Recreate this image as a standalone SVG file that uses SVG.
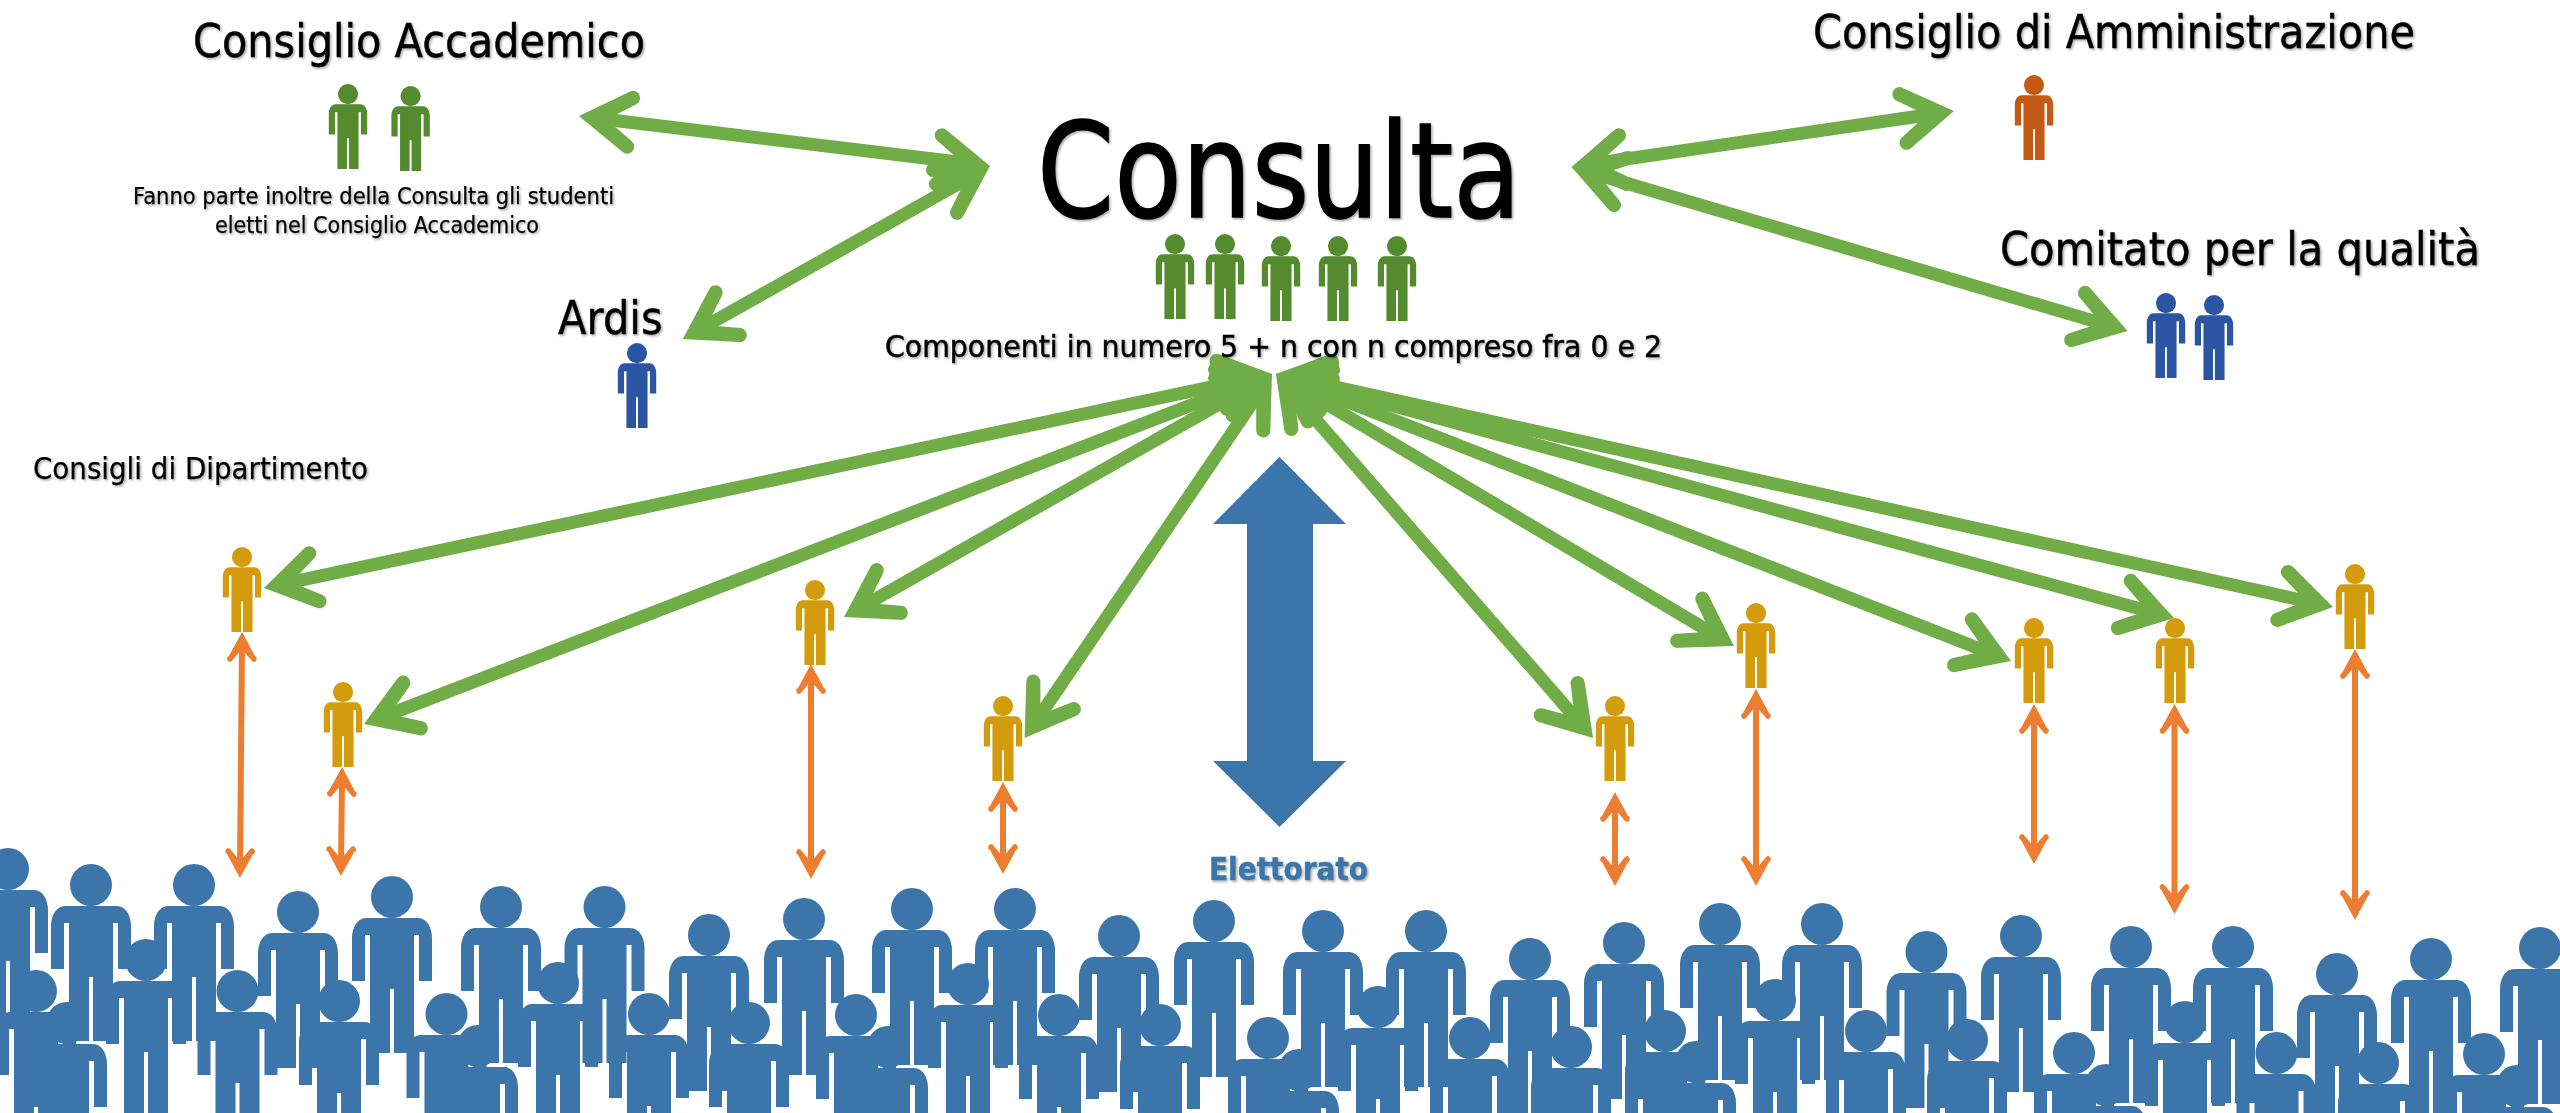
<svg xmlns="http://www.w3.org/2000/svg" width="2560" height="1113" viewBox="0 0 2560 1113">
<style>
text{font-family:"DejaVu Sans","Liberation Sans",sans-serif;fill:#000;stroke:#000;stroke-width:.5;filter:url(#sh)}
.huge{stroke-width:1.6}.small{stroke-width:.25}
.green{fill:#548B2E}.blue{fill:#2B55A2}.rust{fill:#C35B16}.gold{fill:#D49C0D}.crowd{fill:#3B75A9}
.ga{stroke:#70AD47;stroke-width:13;fill:none;marker-start:url(#gh);marker-end:url(#gh)}
.oa{stroke:#ED7D31;stroke-width:6;fill:none;marker-start:url(#oh);marker-end:url(#oh)}
</style>
<defs>
<filter id="sh" x="-5%" y="-15%" width="110%" height="130%"><feDropShadow dx="1.5" dy="1.5" stdDeviation="1.2" flood-color="#000" flood-opacity="0.35"/></filter>
<g id="p"><ellipse cx="0" cy="21" rx="21" ry="21"/><path d="M-26,42H26C35,42 40,52 40,62V105H27V59H22V177H2V113H-2V177H-22V59H-27V105H-40V62C-40,52 -35,42 -26,42Z"/></g>
<marker id="gh" markerUnits="userSpaceOnUse" markerWidth="90" markerHeight="90" viewBox="-65 -45 90 90" refX="-22" refY="0" orient="auto-start-reverse"><path d="M0,0L-47,-30A7,7 0 0 0 -56,-19L-28,0L-56,19A7,7 0 0 0 -47,30Z" fill="#70AD47"/></marker>
<marker id="oh" markerUnits="userSpaceOnUse" markerWidth="50" markerHeight="50" viewBox="-38 -25 50 50" refX="-12" refY="0" orient="auto-start-reverse"><path d="M0,0L-24,-13A3,3 0 0 0 -29.5,-10.5L-17,0L-29.5,10.5A3,3 0 0 0 -24,13Z" fill="#ED7D31"/></marker>
</defs>
<rect width="2560" height="1113" fill="#fff"/>
<g id="elettorato" class="crowd">
<use href="#p" x="8" y="848"/><use href="#p" x="91" y="864"/><use href="#p" x="194" y="864"/><use href="#p" x="298" y="891"/><use href="#p" x="392" y="876"/><use href="#p" x="501" y="886"/><use href="#p" x="604.5" y="886"/><use href="#p" x="709" y="914"/><use href="#p" x="804" y="898"/>
<use href="#p" x="912" y="888"/><use href="#p" x="1015" y="888"/><use href="#p" x="1119" y="915"/><use href="#p" x="1214" y="900"/><use href="#p" x="1323" y="910"/><use href="#p" x="1426" y="910"/><use href="#p" x="1530" y="938"/><use href="#p" x="1624" y="922"/><use href="#p" x="1720" y="903"/>
<use href="#p" x="1822" y="903"/><use href="#p" x="1926.5" y="931"/><use href="#p" x="2021" y="915"/><use href="#p" x="2131" y="926"/><use href="#p" x="2233" y="926"/><use href="#p" x="2337" y="953"/><use href="#p" x="2431" y="938"/><use href="#p" x="2540" y="927"/>
<use href="#p" x="36" y="970"/><use href="#p" x="146" y="939"/><use href="#p" x="237.5" y="970"/><use href="#p" x="339" y="980"/><use href="#p" x="446.5" y="993"/><use href="#p" x="558" y="962"/><use href="#p" x="649" y="993"/><use href="#p" x="749" y="1002"/><use href="#p" x="856" y="994"/>
<use href="#p" x="968" y="963"/><use href="#p" x="1059" y="994"/><use href="#p" x="1160" y="1004"/><use href="#p" x="1268" y="1017"/><use href="#p" x="1378" y="986"/><use href="#p" x="1470" y="1017"/><use href="#p" x="1571" y="1026"/><use href="#p" x="1665" y="1010"/>
<use href="#p" x="1775" y="979"/><use href="#p" x="1866" y="1010"/><use href="#p" x="1967" y="1019"/><use href="#p" x="2074" y="1032"/><use href="#p" x="2185" y="1001"/><use href="#p" x="2276.5" y="1032"/><use href="#p" x="2378" y="1042"/><use href="#p" x="2484" y="1033"/>
<use href="#p" x="67" y="1002"/><use href="#p" x="478" y="1025"/><use href="#p" x="888" y="1026"/><use href="#p" x="1299" y="1049"/><use href="#p" x="1696" y="1041"/><use href="#p" x="2106" y="1064"/><use href="#p" x="2517" y="1065"/>
<text x="1209" y="880" font-size="32" font-weight="700" textLength="159" lengthAdjust="spacingAndGlyphs" style="fill:#3B75A9;stroke:#3B75A9">Elettorato</text>
</g>
<g id="connectors">
<line class="ga" x1="600.8" y1="118.7" x2="968.2" y2="163.3"/>
<line class="ga" x1="701.9" y1="328.2" x2="970.8" y2="176.8"/>
<line class="ga" x1="1593.3" y1="163.8" x2="1932.2" y2="114.2"/>
<line class="ga" x1="1592.6" y1="173.2" x2="2106.5" y2="324.8"/>
<line class="ga" x1="1250.5" y1="378.6" x2="285.5" y2="583.4"/>
<line class="ga" x1="1251.5" y1="381.9" x2="384.5" y2="716.1"/>
<line class="ga" x1="1252.9" y1="384.9" x2="863.1" y2="606.1"/>
<line class="ga" x1="1259.6" y1="392.2" x2="1037" y2="719.8"/>
<line class="ga" x1="1290.4" y1="390.6" x2="1578.6" y2="721.4"/>
<line class="ga" x1="1294.9" y1="385.2" x2="1715.1" y2="634.8"/>
<line class="ga" x1="1296.5" y1="382" x2="1990.5" y2="653"/>
<line class="ga" x1="1297.2" y1="379.8" x2="2152.8" y2="612.2"/>
<line class="ga" x1="1297.5" y1="378.7" x2="2311.5" y2="602.3"/>
<line class="oa" x1="242" y1="644" x2="240" y2="866"/>
<line class="oa" x1="342" y1="779" x2="341" y2="864"/>
<line class="oa" x1="811" y1="676" x2="811" y2="867"/>
<line class="oa" x1="1003" y1="794" x2="1003" y2="862"/>
<line class="oa" x1="1615" y1="804" x2="1615" y2="874"/>
<line class="oa" x1="1756" y1="701" x2="1756" y2="874"/>
<line class="oa" x1="2034" y1="716" x2="2034" y2="852"/>
<line class="oa" x1="2174.5" y1="716" x2="2174.5" y2="902"/>
<line class="oa" x1="2355" y1="661" x2="2355" y2="908"/>
<polygon points="1279.5,457 1346,524 1313,524 1313,761 1346,761 1279.5,827 1213,761 1247,761 1247,524 1213,524" fill="#3B75A9"/>
</g>
<g id="consulta" class="green">
<text class="huge" x="1037" y="217" font-size="132" textLength="484" lengthAdjust="spacingAndGlyphs">Consulta</text>
<use href="#p" transform="translate(1175,234) scale(.48)"/><use href="#p" transform="translate(1225,234) scale(.48)"/><use href="#p" transform="translate(1281,236) scale(.48)"/><use href="#p" transform="translate(1338,236) scale(.48)"/><use href="#p" transform="translate(1397,236) scale(.48)"/>
<text x="885" y="357" font-size="30" textLength="777" lengthAdjust="spacingAndGlyphs">Componenti in numero 5 + n con n compreso fra 0 e 2</text>
</g>
<g id="consiglio-accademico" class="green">
<text x="193" y="57" font-size="47" textLength="452" lengthAdjust="spacingAndGlyphs">Consiglio Accademico</text>
<use href="#p" transform="translate(348,84) scale(.48)"/><use href="#p" transform="translate(410.6,86) scale(.48)"/>
<text class="small" x="133" y="204" font-size="23" textLength="481" lengthAdjust="spacingAndGlyphs">Fanno parte inoltre della Consulta gli studenti</text>
<text class="small" x="215" y="233" font-size="23" textLength="324" lengthAdjust="spacingAndGlyphs">eletti nel Consiglio Accademico</text>
</g>
<g id="ardis" class="blue">
<text x="558" y="334" font-size="47" textLength="104.6" lengthAdjust="spacingAndGlyphs">Ardis</text>
<use href="#p" transform="translate(637,343) scale(.48)"/>
</g>
<g id="consiglio-amministrazione" class="rust">
<text x="1813" y="48" font-size="47" textLength="602" lengthAdjust="spacingAndGlyphs">Consiglio di Amministrazione</text>
<use href="#p" transform="translate(2034,75) scale(.48)"/>
</g>
<g id="comitato-qualita" class="blue">
<text x="2000" y="265" font-size="47" textLength="480" lengthAdjust="spacingAndGlyphs">Comitato per la qualità</text>
<use href="#p" transform="translate(2166,293) scale(.48)"/><use href="#p" transform="translate(2214,295) scale(.48)"/>
</g>
<g id="consigli-dipartimento" class="gold">
<text class="small" x="33" y="479" font-size="31" textLength="335" lengthAdjust="spacingAndGlyphs">Consigli di Dipartimento</text>
<use href="#p" transform="translate(242,547) scale(.48)"/><use href="#p" transform="translate(343,682) scale(.48)"/><use href="#p" transform="translate(815,580) scale(.48)"/><use href="#p" transform="translate(1003,696) scale(.48)"/><use href="#p" transform="translate(1615,696) scale(.48)"/><use href="#p" transform="translate(1756,603) scale(.48)"/><use href="#p" transform="translate(2034,618) scale(.48)"/><use href="#p" transform="translate(2175,618) scale(.48)"/><use href="#p" transform="translate(2355,564) scale(.48)"/>
</g>
</svg>
